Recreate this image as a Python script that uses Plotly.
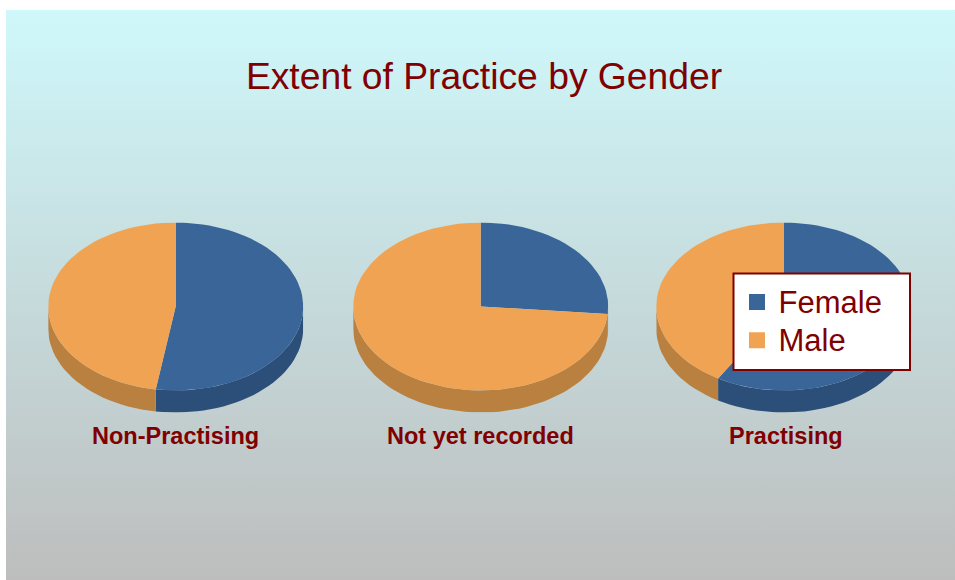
import numpy as np
import plotly.graph_objects as go

categories = ["Non-Practising", "Not yet recorded", "Practising"]
series_names = ["Female", "Male"]
female = [52.5, 26.4, 58.6]
male = [47.5, 73.6, 41.4]
title = "Extent of Practice by Gender"

W, H = 955, 580
DARK = "#800000"
TOP = {"Female": "#3A6598", "Male": "#F0A453"}
SIDE = {"Female": "#2C4F7A", "Male": "#BA803F"}
BG = ["#CFF8FB", "#BDBDBD"]
RX, RY, DEPTH = 127.5, 84.0, 22.0
CX = [175.7, 480.7, 783.7]
LABEL_SHIFT = [0, 0, 2]
CY = 306.5
d = DEPTH / RY


def px(v):
    return v / W


def py(v):
    return 1 - v / H


def arc(a0, a1):
    n = max(2, int(abs(a1 - a0) * 120))
    t = np.linspace(a0, a1, n) * 2 * np.pi
    return np.sin(t), np.cos(t)


fig = go.Figure()
# background
fig.add_trace(go.Scatter(
    x=[0, 1, 1, 0, 0], y=[0, 0, 1, 1, 0], mode="lines", fill="toself",
    line=dict(width=0), hoverinfo="skip", showlegend=False,
    fillgradient=dict(type="vertical", colorscale=[[0, BG[1]], [1, BG[0]]]),
    xaxis="x", yaxis="y"))

layout_axes = {
    "xaxis": dict(domain=[px(6), 1], range=[0, 1], visible=False, fixedrange=True),
    "yaxis": dict(domain=[0, py(10)], range=[0, 1], visible=False, fixedrange=True),
}
annotations = []

for i, cat in enumerate(categories):
    k = str(i + 2)
    xa, ya = "x" + k, "y" + k
    total = female[i] + male[i]
    f = female[i] / total
    slices = [("Female", 0.0, f), ("Male", f, 1.0)]
    # side walls (only the front half, fractions .25 to .75)
    for name, a0, a1 in slices:
        s0, s1 = max(a0, .25), min(a1, .75)
        if s1 > s0:
            xs, ys = arc(s0, s1)
            fig.add_trace(go.Scatter(
                x=np.r_[xs, xs[::-1]], y=np.r_[ys, ys[::-1] - d],
                mode="lines", fill="toself", fillcolor=SIDE[name],
                line=dict(width=0), hoverinfo="skip", showlegend=False,
                xaxis=xa, yaxis=ya))
    # top faces
    for name, a0, a1 in slices:
        xs, ys = arc(a0, a1)
        value = female[i] if name == "Female" else male[i]
        fig.add_trace(go.Scatter(
            x=np.r_[0, xs, 0], y=np.r_[0, ys, 0],
            mode="lines", fill="toself", fillcolor=TOP[name],
            line=dict(width=0), hoverinfo="text",
            text=f"{cat} – {name}: {value}", showlegend=False,
            xaxis=xa, yaxis=ya))
    layout_axes["xaxis" + k] = dict(
        domain=[px(CX[i] - RX), px(CX[i] + RX)], range=[-1, 1],
        visible=False, fixedrange=True)
    layout_axes["yaxis" + k] = dict(
        domain=[py(CY + RY + DEPTH), py(CY - RY)], range=[-1 - d, 1],
        visible=False, fixedrange=True)
    annotations.append(dict(
        text=f"<b>{cat}</b>", x=0, y=-1 - d, xref=xa, yref=ya, showarrow=False,
        yanchor="middle", yshift=-23.5, xshift=LABEL_SHIFT[i],
        font=dict(family="Liberation Sans", size=23.5, color=DARK)))

# legend entries: legend row height follows the legend font, so the entry text
# carries the larger size.
for name in series_names:
    fig.add_trace(go.Scatter(
        x=[None], y=[None], name=f'<span style="font-size:31px">{name}</span>',
        mode="markers",
        marker=dict(symbol="square", size=17, color=TOP[name]),
        xaxis="x", yaxis="y"))

fig.update_layout(
    width=W, height=H, margin=dict(l=0, r=0, t=0, b=0),
    paper_bgcolor="white", plot_bgcolor="rgba(0,0,0,0)",
    title=dict(text=title, x=px(484), xanchor="center", y=py(76), yanchor="middle",
               font=dict(family="Liberation Sans", size=37.25, color=DARK)),
    shapes=[dict(type="rect", xref="paper", yref="paper", layer="above",
                 x0=px(733.5), x1=px(910), y0=py(370), y1=py(273.5),
                 fillcolor="white", line=dict(color=DARK, width=2))],
    legend=dict(x=px(735.5), y=py(278), xanchor="left", yanchor="top",
                bgcolor="rgba(0,0,0,0)", borderwidth=0, itemwidth=33,
                font=dict(family="Liberation Sans", size=27, color=DARK)),
    annotations=annotations,
    **layout_axes)
fig.write_html("out.html", config=dict(displayModeBar=False),
               post_script="document.body.style.margin='0';document.body.style.overflow='hidden';")
